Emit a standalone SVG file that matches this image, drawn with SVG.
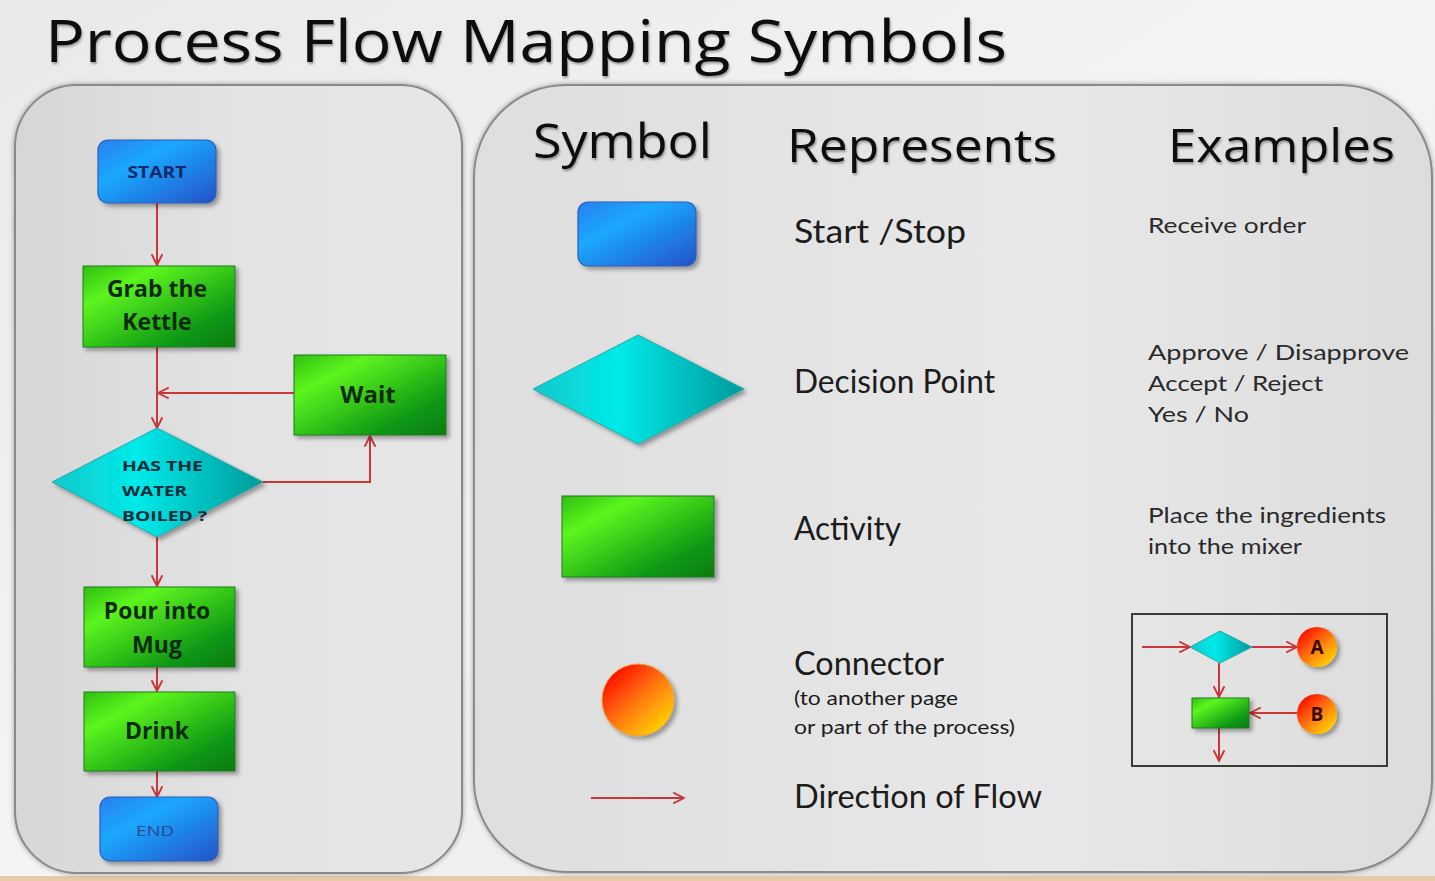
<svg xmlns="http://www.w3.org/2000/svg" width="1435" height="881" viewBox="0 0 1435 881">
<defs>
<linearGradient id="bg" x1="0" y1="0" x2="1" y2="1"><stop offset="0" stop-color="#e9e9e9"/><stop offset="0.5" stop-color="#f4f4f4"/><stop offset="1" stop-color="#e6e6e6"/></linearGradient>
<linearGradient id="panel" x1="0" y1="0" x2="1" y2="0"><stop offset="0" stop-color="#d6d6d6"/><stop offset="0.5" stop-color="#e3e3e3"/><stop offset="1" stop-color="#e6e6e6"/></linearGradient>
<linearGradient id="panel2" x1="0" y1="0" x2="1" y2="0"><stop offset="0" stop-color="#dedede"/><stop offset="0.6" stop-color="#e8e8e8"/><stop offset="1" stop-color="#dcdcdc"/></linearGradient>
<linearGradient id="blue" x1="0" y1="0" x2="1" y2="1"><stop offset="0" stop-color="#2a7ff0"/><stop offset="0.35" stop-color="#1aa8ff"/><stop offset="1" stop-color="#2552c8"/></linearGradient>
<linearGradient id="green" x1="0" y1="0" x2="1" y2="1"><stop offset="0" stop-color="#2fbf10"/><stop offset="0.25" stop-color="#5cf51e"/><stop offset="0.75" stop-color="#109a14"/><stop offset="1" stop-color="#0a7a10"/></linearGradient>
<linearGradient id="cyan" x1="0" y1="0" x2="1" y2="0"><stop offset="0" stop-color="#14c8c8"/><stop offset="0.4" stop-color="#00eaea"/><stop offset="1" stop-color="#009a9a"/></linearGradient>
<linearGradient id="orb" x1="0.15" y1="0.15" x2="0.85" y2="0.9"><stop offset="0" stop-color="#ff1400"/><stop offset="0.5" stop-color="#ff7a10"/><stop offset="1" stop-color="#ffd200"/></linearGradient>
<filter id="sh" x="-20%" y="-20%" width="150%" height="150%"><feDropShadow dx="3" dy="3" stdDeviation="2" flood-color="#000" flood-opacity="0.35"/></filter>
<filter id="psh" x="-5%" y="-5%" width="110%" height="110%"><feDropShadow dx="0" dy="0" stdDeviation="2.5" flood-color="#000" flood-opacity="0.35"/></filter>
<filter id="tsh" x="-5%" y="-20%" width="110%" height="160%"><feDropShadow dx="1" dy="2" stdDeviation="1.2" flood-color="#000" flood-opacity="0.35"/></filter>
<marker id="ah" viewBox="0 0 10 10" refX="9" refY="5" markerWidth="12" markerHeight="12" markerUnits="userSpaceOnUse" orient="auto"><path d="M0,0.5 L9,5 L0,9.5" fill="none" stroke="#c8383a" stroke-width="1.6"/></marker>
<style>
.ln{stroke:#c8383a;stroke-width:2;fill:none}
.fc{font-family:"Open Sans","DejaVu Sans",sans-serif;font-weight:bold;fill:#0e2a0e;text-anchor:middle}
.hd{font-family:"Open Sans","Liberation Sans",sans-serif;fill:#111}
.rep{font-family:Lato,"DejaVu Sans",sans-serif;fill:#1c1c1c}
.ex{font-family:Lato,"DejaVu Sans",sans-serif;fill:#2a2a2a}
.bl{fill:url(#blue);stroke:#2c5fb8;stroke-width:1.2}
.gr{fill:url(#green);stroke:#1e7a1e;stroke-width:1}
.dm{fill:url(#cyan);stroke:#26a8a8;stroke-width:1}
</style>
</defs>
<rect width="1435" height="881" fill="url(#bg)"/>
<rect x="0" y="876" width="1435" height="5" fill="#e8c9a8"/>
<text class="hd" x="45" y="62" font-size="58" textLength="962" lengthAdjust="spacingAndGlyphs" filter="url(#tsh)">Process Flow Mapping Symbols</text>

<g id="panel-left"><rect x="15" y="85" width="447" height="788" rx="62" fill="url(#panel)" stroke="#8a8a8a" stroke-width="2" filter="url(#psh)"/></g>
<g id="panel-right"><rect x="474" y="85" width="958" height="787" rx="92" fill="url(#panel2)" stroke="#8a8a8a" stroke-width="2" filter="url(#psh)"/></g>

<g id="connectors">
<line class="ln" x1="157" y1="203" x2="157" y2="265" marker-end="url(#ah)"/>
<line class="ln" x1="157" y1="347" x2="157" y2="428" marker-end="url(#ah)"/>
<line class="ln" x1="294" y1="393" x2="158" y2="393" marker-end="url(#ah)"/>
<polyline class="ln" points="263,482 370,482 370,436" marker-end="url(#ah)"/>
<line class="ln" x1="157" y1="537" x2="157" y2="586" marker-end="url(#ah)"/>
<line class="ln" x1="157" y1="667" x2="157" y2="691" marker-end="url(#ah)"/>
<line class="ln" x1="157" y1="771" x2="157" y2="797" marker-end="url(#ah)"/>
<line class="ln" x1="591" y1="798" x2="684" y2="798" marker-end="url(#ah)"/>
<line class="ln" x1="1142" y1="647" x2="1190" y2="647" marker-end="url(#ah)"/>
<line class="ln" x1="1252" y1="647" x2="1297" y2="647" marker-end="url(#ah)"/>
<line class="ln" x1="1219" y1="663" x2="1219" y2="697" marker-end="url(#ah)"/>
<line class="ln" x1="1297" y1="713" x2="1250" y2="713" marker-end="url(#ah)"/>
<line class="ln" x1="1219" y1="728" x2="1219" y2="761" marker-end="url(#ah)"/>
</g>

<g id="start"><rect class="bl" x="98" y="140" width="118" height="63" rx="10" filter="url(#sh)"/><text class="fc" x="157" y="178" font-size="16" fill="#14286a" style="fill:#14286a" textLength="59" lengthAdjust="spacingAndGlyphs">START</text></g>
<g id="grab"><rect class="gr" x="83" y="266" width="152" height="81" filter="url(#sh)"/><text class="fc" x="157" y="297" font-size="23">Grab the</text><text class="fc" x="157" y="330" font-size="23">Kettle</text></g>
<g id="wait"><rect class="gr" x="294" y="355" width="152" height="80" filter="url(#sh)"/><text class="fc" x="368" y="403" font-size="24">Wait</text></g>
<g id="decision"><polygon class="dm" points="157,428 263,482 157,537 52,482" filter="url(#sh)"/>
<text class="fc" x="122" y="471" font-size="15" style="text-anchor:start;fill:#0b2a3a" textLength="81" lengthAdjust="spacingAndGlyphs">HAS THE</text>
<text class="fc" x="122" y="496" font-size="15" style="text-anchor:start;fill:#0b2a3a" textLength="65" lengthAdjust="spacingAndGlyphs">WATER</text>
<text class="fc" x="122" y="521" font-size="15" style="text-anchor:start;fill:#0b2a3a" textLength="85" lengthAdjust="spacingAndGlyphs">BOILED ?</text></g>
<g id="pour"><rect class="gr" x="84" y="587" width="151" height="80" filter="url(#sh)"/><text class="fc" x="157" y="619" font-size="23">Pour into</text><text class="fc" x="157" y="653" font-size="23">Mug</text></g>
<g id="drink"><rect class="gr" x="84" y="692" width="151" height="79" filter="url(#sh)"/><text class="fc" x="157" y="739" font-size="23">Drink</text></g>
<g id="end"><rect class="bl" x="100" y="797" width="118" height="64" rx="10" filter="url(#sh)"/><text class="fc" x="155" y="836" font-size="15" style="fill:#2a4a8a;font-weight:normal" textLength="38" lengthAdjust="spacingAndGlyphs">END</text></g>

<g id="headers">
<text class="hd" x="533" y="158" font-size="48" textLength="179" lengthAdjust="spacingAndGlyphs" filter="url(#tsh)">Symbol</text>
<text class="hd" x="787" y="162" font-size="46" textLength="270" lengthAdjust="spacingAndGlyphs" filter="url(#tsh)">Represents</text>
<text class="hd" x="1168" y="162" font-size="46" textLength="227" lengthAdjust="spacingAndGlyphs" filter="url(#tsh)">Examples</text>
</g>

<g id="row-start">
<rect class="bl" x="578" y="202" width="118" height="64" rx="10" filter="url(#sh)"/>
<text class="rep" x="794" y="243" font-size="33" textLength="172" lengthAdjust="spacingAndGlyphs">Start /Stop</text>
<text class="ex" x="1148" y="233" font-size="22" textLength="158" lengthAdjust="spacingAndGlyphs">Receive order</text>
</g>
<g id="row-decision">
<polygon class="dm" points="638,335 744,389 638,444 533,389" filter="url(#sh)"/>
<text class="rep" x="794" y="393" font-size="32" textLength="201" lengthAdjust="spacingAndGlyphs">Decision Point</text>
<text class="ex" x="1148" y="360" font-size="22" textLength="261" lengthAdjust="spacingAndGlyphs">Approve / Disapprove</text>
<text class="ex" x="1148" y="391" font-size="22" textLength="175" lengthAdjust="spacingAndGlyphs">Accept / Reject</text>
<text class="ex" x="1148" y="422" font-size="22" textLength="101" lengthAdjust="spacingAndGlyphs">Yes / No</text>
</g>
<g id="row-activity">
<rect class="gr" x="562" y="496" width="152" height="81" filter="url(#sh)"/>
<text class="rep" x="794" y="540" font-size="32" textLength="107" lengthAdjust="spacingAndGlyphs">Activity</text>
<text class="ex" x="1148" y="523" font-size="22" textLength="238" lengthAdjust="spacingAndGlyphs">Place the ingredients</text>
<text class="ex" x="1148" y="554" font-size="22" textLength="154" lengthAdjust="spacingAndGlyphs">into the mixer</text>
</g>
<g id="row-connector">
<circle cx="638" cy="700" r="36" fill="url(#orb)" stroke="#e8a040" stroke-width="1" filter="url(#sh)"/>
<text class="rep" x="794" y="675" font-size="32" textLength="150" lengthAdjust="spacingAndGlyphs">Connector</text>
<text class="rep" x="794" y="705" font-size="19" textLength="164" lengthAdjust="spacingAndGlyphs">(to another page</text>
<text class="rep" x="794" y="734" font-size="19" textLength="221" lengthAdjust="spacingAndGlyphs">or part of the process)</text>
</g>
<g id="row-flow">
<text class="rep" x="794" y="808" font-size="32" textLength="248" lengthAdjust="spacingAndGlyphs">Direction of Flow</text>
</g>

<g id="example-box">
<rect x="1132" y="614" width="255" height="152" fill="none" stroke="#3a3a3a" stroke-width="2"/>
<polygon class="dm" points="1220,631 1252,647 1220,663 1190,647"/>
<rect class="gr" x="1192" y="698" width="57" height="30" filter="url(#sh)"/>
<g id="conn-a"><circle cx="1317" cy="647" r="20" fill="url(#orb)" filter="url(#sh)"/><text class="fc" x="1317" y="654" font-size="19" style="fill:#3a0a00">A</text></g>
<g id="conn-b"><circle cx="1317" cy="714" r="20" fill="url(#orb)" filter="url(#sh)"/><text class="fc" x="1317" y="721" font-size="19" style="fill:#3a0a00">B</text></g>
</g>
</svg>
